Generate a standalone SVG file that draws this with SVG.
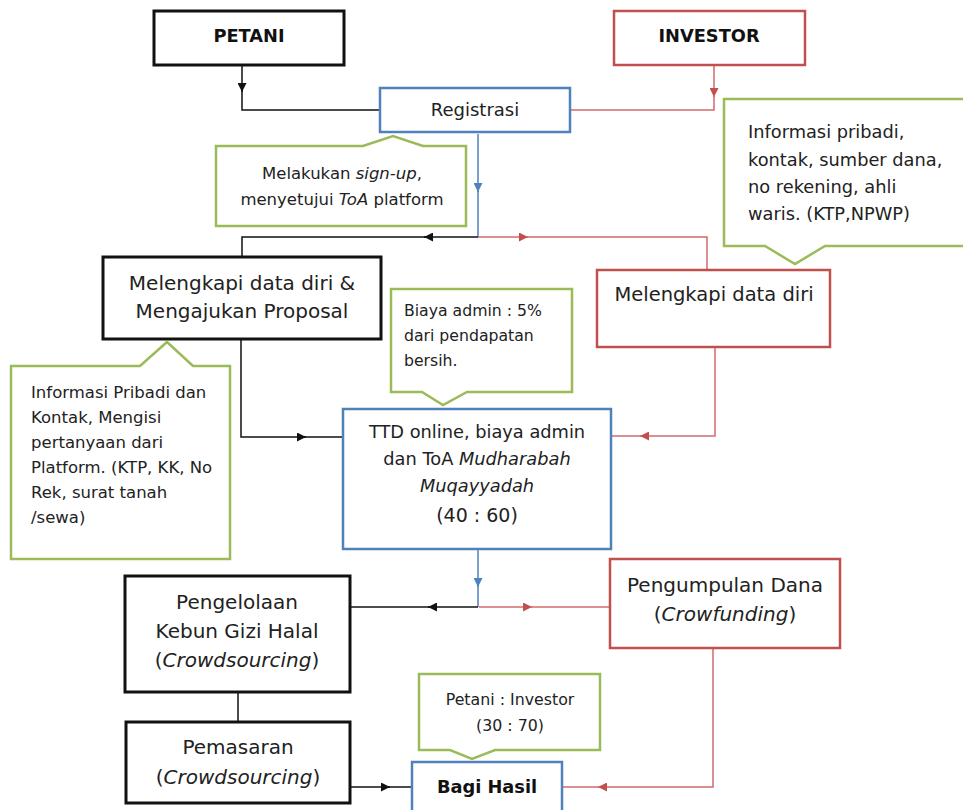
<svg xmlns="http://www.w3.org/2000/svg" width="963" height="810" viewBox="0 0 963 810">
<style>
text{font-family:"DejaVu Sans","Open Sans","Liberation Sans",sans-serif;fill:#222}
.c{text-anchor:middle}
.b{font-weight:bold;fill:#111}
.i{font-style:italic}
.bk{fill:#fff;stroke:#111;stroke-width:3}
.rd{fill:#fff;stroke:#C0504D;stroke-width:2.5}
.bl{fill:#fff;stroke:#4F81BD;stroke-width:2.5}
.gr{fill:#fff;stroke:#9BBB59;stroke-width:2.5;stroke-linejoin:miter}
.lk{fill:none;stroke:#111;stroke-width:1.5}
.lr{fill:none;stroke:#D46A6A;stroke-width:1.5}
.lb{fill:none;stroke:#4F81BD;stroke-width:1.5}
</style>
<defs>
<marker id="ak" viewBox="0 0 10 10" refX="10" refY="5" markerWidth="9" markerHeight="9" markerUnits="userSpaceOnUse" orient="auto"><path d="M0,0L10,5L0,10z" fill="#111"/></marker>
<marker id="ar" viewBox="0 0 10 10" refX="10" refY="5" markerWidth="9" markerHeight="9" markerUnits="userSpaceOnUse" orient="auto"><path d="M0,0L10,5L0,10z" fill="#C0504D"/></marker>
<marker id="ab" viewBox="0 0 10 10" refX="10" refY="5" markerWidth="9" markerHeight="9" markerUnits="userSpaceOnUse" orient="auto"><path d="M0,0L10,5L0,10z" fill="#4F81BD"/></marker>
</defs>
<rect width="963" height="810" fill="#fff"/>

<g id="connectors">
<path class="lk" d="M242,65V92" marker-end="url(#ak)"/>
<path class="lk" d="M242,90V110H380"/>
<path class="lr" d="M714,65V97" marker-end="url(#ar)"/>
<path class="lr" d="M714,95V110H570"/>
<path class="lb" d="M478,134V192" marker-end="url(#ab)"/>
<path class="lb" d="M478,190V237"/>
<path class="lk" d="M478,237H424" marker-end="url(#ak)"/>
<path class="lk" d="M426,237H242V257"/>
<path class="lr" d="M478,237H528" marker-end="url(#ar)"/>
<path class="lr" d="M526,237H707V270"/>
<path class="lk" d="M241,340V437H306" marker-end="url(#ak)"/>
<path class="lk" d="M304,437H344"/>
<path class="lr" d="M715,347V436H640" marker-end="url(#ar)"/>
<path class="lr" d="M642,436H611"/>
<path class="lb" d="M478,549V587" marker-end="url(#ab)"/>
<path class="lb" d="M478,585V607"/>
<path class="lk" d="M478,607H428" marker-end="url(#ak)"/>
<path class="lk" d="M430,607H350"/>
<path class="lr" d="M479,607H532" marker-end="url(#ar)"/>
<path class="lr" d="M530,607H610"/>
<path class="lk" d="M238,692V722"/>
<path class="lk" d="M350,787H390" marker-end="url(#ak)"/>
<path class="lk" d="M388,787H412"/>
<path class="lr" d="M713,648V787H598" marker-end="url(#ar)"/>
<path class="lr" d="M600,787H562"/>
</g>

<g id="petani">
<rect class="bk" x="154" y="11" width="190" height="54"/>
<text class="c b" x="249" y="42" font-size="17.8">PETANI</text>
</g>
<g id="investor">
<rect class="rd" x="614" y="11" width="191" height="54"/>
<text class="c b" x="709" y="42" font-size="17.8">INVESTOR</text>
</g>
<g id="registrasi">
<rect class="bl" x="380" y="88" width="190" height="44"/>
<text class="c" x="475" y="116" font-size="18">Registrasi</text>
</g>
<g id="note-signup">
<path class="gr" d="M216,146H363L393,136L423,146H466V226H216Z"/>
<text class="c" x="342" y="179" font-size="16.5">Melakukan <tspan class="i">sign-up</tspan>,</text>
<text class="c" x="342" y="205" font-size="16.5">menyetujui <tspan class="i">ToA</tspan> platform</text>
</g>
<g id="note-investor">
<path class="gr" d="M724,99H975V246H825L795,264L765,246H724Z"/>
<text x="748" y="138" font-size="17.8">Informasi pribadi,</text>
<text x="748" y="166" font-size="17.8">kontak, sumber dana,</text>
<text x="748" y="193" font-size="17.8">no rekening, ahli</text>
<text x="748" y="220" font-size="17.8">waris. (KTP,NPWP)</text>
</g>
<g id="petani-data">
<rect class="bk" x="103" y="257" width="278" height="82"/>
<text class="c" x="242" y="290" font-size="20">Melengkapi data diri &amp;</text>
<text class="c" x="242" y="318" font-size="20">Mengajukan Proposal</text>
</g>
<g id="investor-data">
<rect class="rd" x="597" y="270" width="233" height="77"/>
<text class="c" x="714" y="301" font-size="19.5">Melengkapi data diri</text>
</g>
<g id="note-petani">
<path class="gr" d="M11,366H140L167,342L193,366H230V559H11Z"/>
<text x="31" y="398" font-size="16.5">Informasi Pribadi dan</text>
<text x="31" y="423" font-size="16.5">Kontak, Mengisi</text>
<text x="31" y="448" font-size="16.5">pertanyaan dari</text>
<text x="31" y="473" font-size="16.5">Platform. (KTP, KK, No</text>
<text x="31" y="498" font-size="16.5">Rek, surat tanah</text>
<text x="31" y="523" font-size="16.5">/sewa)</text>
</g>
<g id="note-admin">
<path class="gr" d="M391,289H572V392H467L443,405L422,392H391Z"/>
<text x="404" y="316" font-size="15.7">Biaya admin : 5%</text>
<text x="404" y="341" font-size="15.7">dari pendapatan</text>
<text x="404" y="366" font-size="15.7">bersih.</text>
</g>
<g id="ttd">
<rect class="bl" x="343" y="409" width="268" height="140"/>
<text class="c" x="477" y="438" font-size="17.8">TTD online, biaya admin</text>
<text class="c" x="477" y="465" font-size="17.8">dan ToA <tspan class="i">Mudharabah</tspan></text>
<text class="c i" x="477" y="492" font-size="17.8">Muqayyadah</text>
<text class="c" x="477" y="522" font-size="19">(40 : 60)</text>
</g>
<g id="pengelolaan">
<rect class="bk" x="125" y="576" width="225" height="116"/>
<text class="c" x="237" y="609" font-size="20">Pengelolaan</text>
<text class="c" x="237" y="638" font-size="20">Kebun Gizi Halal</text>
<text class="c" x="237" y="667" font-size="20">(<tspan class="i">Crowdsourcing</tspan>)</text>
</g>
<g id="pengumpulan">
<rect class="rd" x="610" y="559" width="230" height="89"/>
<text class="c" x="725" y="592" font-size="20">Pengumpulan Dana</text>
<text class="c" x="725" y="621" font-size="20">(<tspan class="i">Crowfunding</tspan>)</text>
</g>
<g id="pemasaran">
<rect class="bk" x="126" y="722" width="224" height="81"/>
<text class="c" x="238" y="754" font-size="20">Pemasaran</text>
<text class="c" x="238" y="784" font-size="20">(<tspan class="i">Crowdsourcing</tspan>)</text>
</g>
<g id="note-bagi">
<path class="gr" d="M419,674H600V750H495L472,759L450,750H419Z"/>
<text class="c" x="510" y="705" font-size="15.8">Petani : Investor</text>
<text class="c" x="510" y="731" font-size="15.8">(30 : 70)</text>
</g>
<g id="bagi-hasil">
<rect class="bl" x="412" y="762" width="150" height="60"/>
<text class="c b" x="487" y="793" font-size="17.8">Bagi Hasil</text>
</g>
</svg>
